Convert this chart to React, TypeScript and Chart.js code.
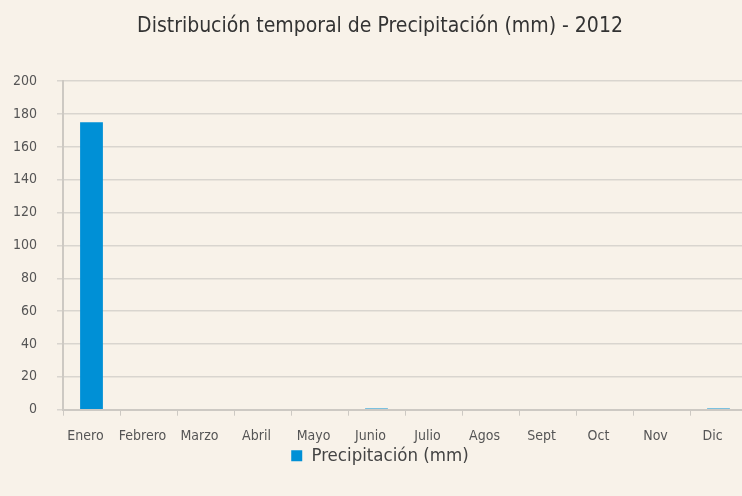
import React, { useEffect, useRef } from "react";
import { Chart, registerables } from "chart.js";

Chart.register(...registerables);

const categories = ["Enero", "Febrero", "Marzo", "Abril", "Mayo", "Junio", "Julio", "Agos", "Sept", "Oct", "Nov", "Dic"];
const precipitacion = [175, 0, 0, 0, 0, 0.8, 0, 0, 0, 0, 0, 0.8];
const seriesName = "Precipitación (mm)";
const titleText = "Distribución temporal de Precipitación (mm) - 2012";

const FONT = "'DejaVu Sans Condensed', 'Liberation Sans Narrow', sans-serif";
const BG = "#f8f2e9";

const bgPlugin = {
  id: "bg",
  beforeDraw(chart: any) {
    const { ctx, width, height } = chart;
    ctx.save();
    ctx.fillStyle = BG;
    ctx.fillRect(0, 0, width, height);
    ctx.restore();
  },
  afterLayout(chart: any) {
    const lg = chart.legend;
    if (lg) {
      lg.top -= 14;
      lg.bottom -= 14;
    }
  },
};

export default function App() {
  const ref = useRef<HTMLCanvasElement>(null);
  useEffect(() => {
    document.body.style.margin = "0";
    document.body.style.overflow = "hidden";
    document.body.style.background = BG;
    const chart = new Chart(ref.current!, {
      type: "bar",
      data: {
        labels: categories,
        datasets: [
          {
            label: seriesName,
            data: precipitacion,
            backgroundColor: "#0090d6",
            borderWidth: 0,
            categoryPercentage: 0.8,
            barPercentage: 0.5,
          },
        ],
      },
      options: {
        animation: false,
        responsive: false,
        layout: { padding: { left: 13, right: 13, top: 0, bottom: 7 } },
        plugins: {
          title: {
            display: true,
            text: titleText,
            color: "#333333",
            font: { family: FONT, size: 21, weight: "normal" },
            padding: { top: 14, bottom: 42 },
          },
          legend: {
            position: "bottom",
            labels: {
              color: "#444444",
              font: { family: FONT, size: 18.5 },
              boxWidth: 11,
              boxHeight: 11,
              padding: 4,
            },
          },
          tooltip: { enabled: false },
        },
        scales: {
          x: {
            grid: { drawOnChartArea: false, drawTicks: true, tickLength: 6, color: "#cdc9c3" },
            border: { color: "#cdc9c3", width: 2 },
            ticks: {
              color: "#555555",
              font: { family: FONT, size: 14 },
              padding: 12,
              labelOffset: -6,
              maxRotation: 0,
              minRotation: 0,
              autoSkip: false,
            },
          },
          y: {
            afterFit: (scale: any) => {
              scale.width = 50;
            },
            min: 0,
            max: 200,
            ticks: { stepSize: 20, color: "#555555", font: { family: FONT, size: 14 }, padding: 20 },
            grid: { color: "#d9d5cf", tickLength: 6, lineWidth: 1.5 },
            border: { color: "#cdc9c3", width: 2 },
          },
        },
      },
      plugins: [bgPlugin],
    });
    return () => chart.destroy();
  }, []);
  return (
    <div style={{ width: 742, height: 496, overflow: "hidden", background: BG }}>
      <canvas ref={ref} width={760} height={496} style={{ display: "block" }} />
    </div>
  );
}
